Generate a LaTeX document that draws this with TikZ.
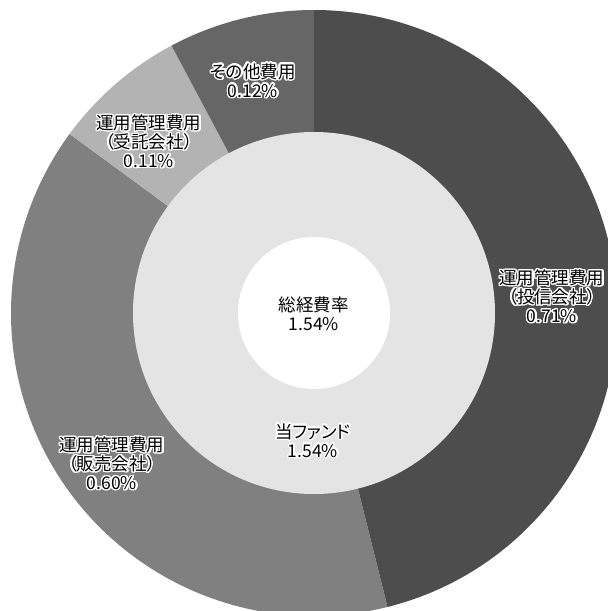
\documentclass[tikz,border=0pt]{standalone}
\usepackage{fontspec}
\setmainfont{Noto Sans CJK JP}[RawFeature={+palt}]
\usepackage{xcolor}
\usepackage{contour}
\usepackage{tikz}
\contourlength{1.4pt}
\contournumber{24}

\definecolor{trustgray}{RGB}{77,77,77}
\definecolor{salesgray}{RGB}{128,128,128}
\definecolor{custgray}{RGB}{179,179,179}
\definecolor{othergray}{RGB}{102,102,102}
\definecolor{ringgray}{RGB}{228,228,228}

% white outline behind the text
\newcommand{\halo}[1]{\contour{white}{#1}}

\begin{document}
\begin{tikzpicture}[
    x=1pt, y=1pt,
    lbl/.style={align=center, inner sep=0pt, font=\fontsize{17.5}{19}\selectfont},
    centerlbl/.style={lbl, text=black}
]
\useasboundingbox (-314,-298) rectangle (294,313);

% Outer ring slices
\fill[trustgray] (0,0) -- (90:303) arc[start angle=90, end angle=-75.97, radius=303] -- cycle;
\fill[salesgray] (0,0) -- (-75.97:303) arc[start angle=-75.97, end angle=-216.23, radius=303] -- cycle;
\fill[custgray] (0,0) -- (-216.23:303) arc[start angle=-216.23, end angle=-241.95, radius=303] -- cycle;
\fill[othergray] (0,0) -- (-241.95:303) arc[start angle=-241.95, end angle=-270, radius=303] -- cycle;

% Inner ring and centre
\fill[ringgray] (0,0) circle[radius=181];
\fill[white] (0,0) circle[radius=76];

% Labels
\node[lbl] (trust) at (238,16) {\halo{運用管理費用}\\\halo{（投信会社）}\\\halo{0.71\%}};
\node[lbl] (sales) at (-202,-151) {\halo{運用管理費用}\\\halo{（販売会社）}\\\halo{0.60\%}};
\node[lbl] (cust) at (-165,171) {\halo{運用管理費用}\\\halo{（受託会社）}\\\halo{0.11\%}};
\node[lbl] (other) at (-61,232) {\halo{その他費用}\\\halo{0.12\%}};
\node[lbl] (fund) at (-1,-128) {\halo{当ファンド}\\\halo{1.54\%}};
\node[centerlbl] (total) at (0,-1) {総経費率\\1.54\%};

\end{tikzpicture}
\end{document}
